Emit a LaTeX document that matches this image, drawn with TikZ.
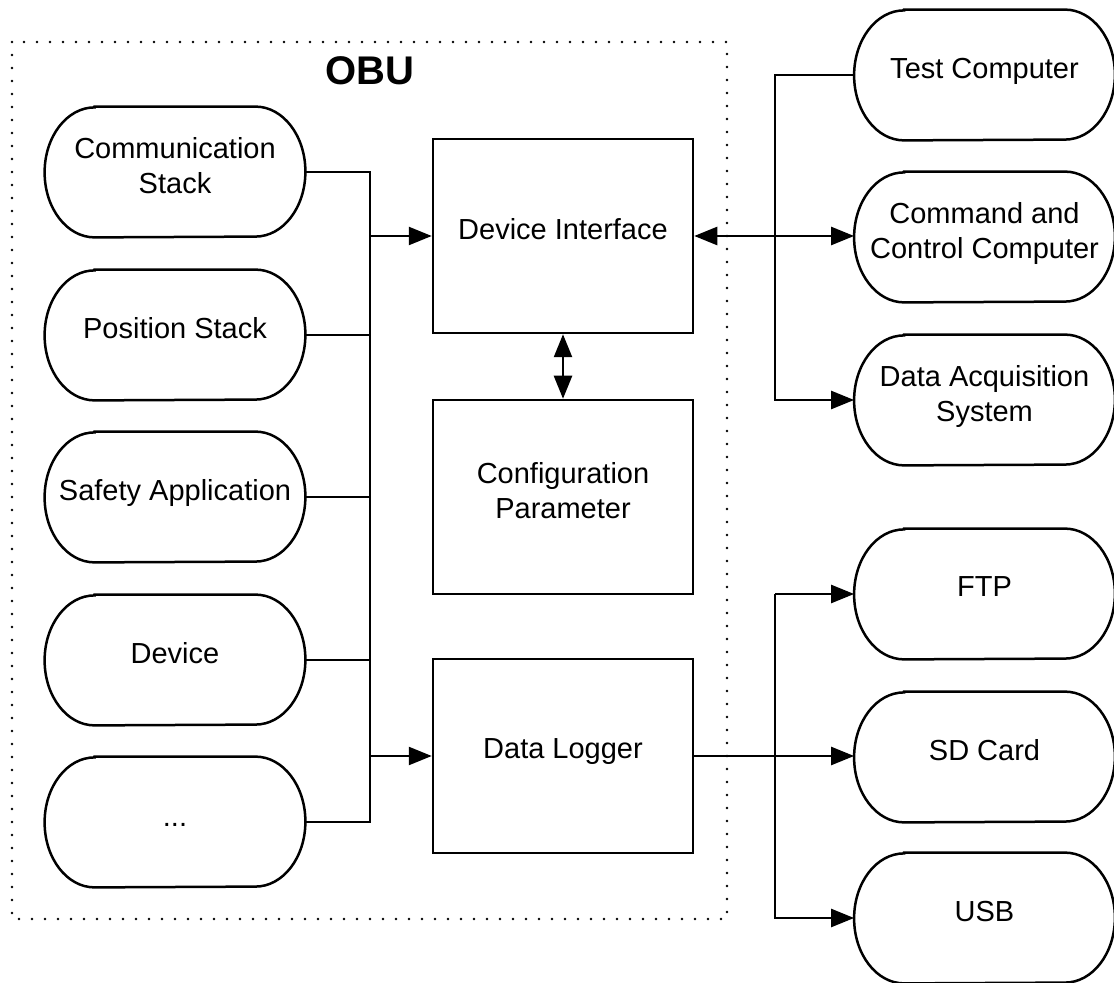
\documentclass[tikz,border=0pt]{standalone}
\usepackage{fontspec}
\setmainfont{Liberation Sans}
\usetikzlibrary{arrows.meta,calc}

\tikzset{
  wire/.style={line width=1.25pt},
  arr/.style={wire,-{Triangle[length=11.5pt,width=9pt]}},
  dbl/.style={wire,{Triangle[length=11.5pt,width=9pt]}-{Triangle[length=11.5pt,width=9pt]}},
  stadium/.style={minimum width=130pt,minimum height=65pt,inner sep=0pt,align=center,
    text depth=7pt,font=\fontsize{14.5}{17.5}\selectfont},
  outline/.style={line width=1.25pt},
  block/.style={draw,line width=1.25pt,minimum width=130pt,minimum height=97pt,inner sep=0pt,
    align=center,text depth=7pt,font=\fontsize{14.5}{17.5}\selectfont},
  frame/.style={line width=1.3pt,line cap=round,dash pattern=on 0pt off 6.5pt}
}

\begin{document}
\begin{tikzpicture}[x=0.5pt,y=-0.5pt]
\useasboundingbox (0,0) rectangle (1114,983);

% OBU boundary
\draw[frame] (12,42) rectangle (727,919);
\node[font=\bfseries\fontsize{20}{24}\selectfont] (obu) at (370,71) {OBU};

% modules feeding the OBU
\node[stadium] (ls1) at (175,172) {Communication\\Stack};
\node[stadium] (ls2) at (175,335) {Position Stack};
\node[stadium] (ls3) at (175,497) {Safety Application};
\node[stadium] (ls4) at (175,660) {Device};
\node[stadium,text depth=0pt] (ls5) at (175,822) {\raisebox{-2pt}{...}};

% OBU core blocks
\node[block] (di) at (563,236) {Device Interface};
\node[block] (cp) at (563,497) {Configuration\\Parameter};
\node[block] (dl) at (563,756) {Data Logger};

% external systems
\node[stadium] (tc) at (984.5,75) {Test Computer};
\node[stadium] (cc) at (984.5,237) {Command and\\Control Computer};
\node[stadium] (da) at (984.5,400) {Data Acquisition\\System};
\node[stadium] (ftp) at (984.5,594) {FTP};
\node[stadium] (sd) at (984.5,757) {SD Card};
\node[stadium] (usb) at (984.5,918) {USB};

% terminator outlines with elliptical ends
\foreach \n in {ls1,ls2,ls3,ls4,ls5,tc,cc,da,ftp,sd,usb}{
  \draw[outline] ([xshift=25pt]\n.north west) -- ([xshift=-25pt]\n.north east)
    arc[start angle=90,end angle=-90,x radius=25pt,y radius=32.5pt]
    -- ([xshift=25pt]\n.south west)
    arc[start angle=270,end angle=90,x radius=25pt,y radius=32.5pt] -- cycle;
}

% bus lines
\coordinate (bl) at (370,0);
\coordinate (br) at (775,0);

% left bus
\draw[wire] (ls1.east) -- (ls1.east -| bl) -- (ls5.east -| bl) -- (ls5.east);
\draw[wire] (ls2.east) -- (ls2.east -| bl);
\draw[wire] (ls3.east) -- (ls3.east -| bl);
\draw[wire] (ls4.east) -- (ls4.east -| bl);
\draw[arr] (di.west -| bl) -- (di.west);
\draw[arr] (dl.west -| bl) -- (dl.west);

% device interface links
\draw[dbl] (di.south) -- (cp.north);
\draw[dbl] (di.east) -- (di.east -| cc.west);
\draw[arr] (tc.west) -- (tc.west -| br) -- (da.west -| br) -- (da.west);

% data logger outputs
\draw[arr] (dl.east) -- (dl.east -| sd.west);
\draw[arr] (ftp.west -| br) -- (ftp.west);
\draw[arr] (ftp.west -| br) -- (usb.west -| br) -- (usb.west);
\end{tikzpicture}
\end{document}
